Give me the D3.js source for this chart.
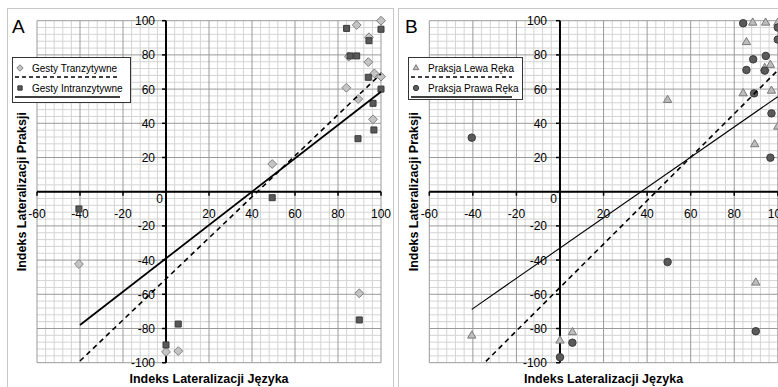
<!DOCTYPE html>
<html>
<head>
<meta charset="utf-8">
<script src="https://cdn.jsdelivr.net/npm/d3@7"></script>
<style>
  body { margin: 0; background: #fff; }
  svg { display: block; font-family: "Liberation Sans", Arial, sans-serif; }
</style>
</head>
<body>
<div id="chart"></div>
<script>
// ticks
const xTicks = [-60, -40, -20, 20, 40, 60, 80, 100];
const yTicks = [-100, -80, -60, -40, -20, 0, 20, 40, 60, 80, 100];

// panel A: gestures
const tranzX = [100, 88.7, 94.4, 85, 94.1, 96.9, 100, 83.9, 89.4, 96.3, 49.4, -40.5, 0, 5.7, 89.9];
const tranzY = [100, 97.5, 90.3, 79, 75.8, 69.2, 67.3, 60.8, 54.2, 42.3, 16.2, -42.3, -93.7, -93.2, -59.4];
const intranzX = [84, 100, 94.4, 85.6, 88.7, 94.1, 100, 96.3, 96.7, 89.3, 49.4, -40.5, 5.7, 0, 89.9];
const intranzY = [95.5, 95, 88.3, 79.4, 79.4, 66.9, 60, 51.7, 36.1, 31, -3.5, -10.1, -77.4, -89.6, -75];
const tranzTrend = [[-40, -99], [100, 69]];
const intranzTrend = [[-40, -78], [100, 58.5]];

// panel B: praxis by hand
const lewaX = [88.5, 94.4, 100, 85.6, 96.6, 94, 84.1, 97.1, 100, 89.4, 49.4, -40.5, 0, 5.7, 89.9];
const lewaY = [98.8, 98.8, 98.8, 87.4, 74.1, 72.3, 57.5, 59, 38, 27.7, 53.6, -84.2, -87.1, -82.2, -53.2];
const prawaX = [84.1, 100, 100, 94.5, 88.7, 85.6, 94, 89.1, 97.1, 96.6, -40.5, 5.7, 0, 49.4, 89.9];
const prawaY = [98.5, 96, 89, 79.4, 77.4, 71.2, 70.8, 57.5, 45.8, 19.9, 31.6, -88.3, -96.8, -41.1, -81.6];
const lewaTrend = [[-34, -99.2], [100, 71]];
const prawaTrend = [[-40.5, -68.8], [100, 55.6]];

const xTitle = "Indeks Lateralizacji Języka";
const yTitle = "Indeks Lateralizacji Praksji";

const svg = d3.select("#chart").append("svg")
  .attr("width", 778)
  .attr("height", 387);

const sym = {
  diamond: d3.symbol().type(d3.symbolDiamond2),
  square: d3.symbol().type(d3.symbolSquare2),
  triangle: d3.symbol().type(d3.symbolTriangle2),
  circle: d3.symbol().type(d3.symbolCircle)
};
const styles = {
  diamond: { fill: "#c4c4c4", stroke: "#808080" },
  square: { fill: "#595959", stroke: "#3a3a3a" },
  triangle: { fill: "#bdbdbd", stroke: "#7a7a7a" },
  circle: { fill: "#5a5a5a", stroke: "#3a3a3a" }
};

function drawPanel(p) {
  const g = svg.append("g");

  // frame
  g.append("rect")
    .attr("x", p.frame[0] + 0.5).attr("y", 8.5)
    .attr("width", p.frame[1] - p.frame[0]).attr("height", 400)
    .attr("fill", "#fff").attr("stroke", "#c8c8c8");

  const x = d3.scaleLinear().domain([-60, 100]).range([p.left, p.right]);
  const y = d3.scaleLinear().domain([-100, 100]).range([362.7, 20.7]);

  // grid
  const minorX = d3.range(-60, 101, 4).filter(v => v % 20 !== 0);
  const minorY = d3.range(-100, 101, 4).filter(v => v % 20 !== 0);
  const majorX = d3.range(-60, 101, 20);
  const majorY = d3.range(-100, 101, 20);

  const grid = g.append("g");
  grid.selectAll(".mx").data(minorX).join("line")
    .attr("x1", d => x(d)).attr("x2", d => x(d))
    .attr("y1", y(100)).attr("y2", y(-100))
    .attr("stroke", "#d4d4d4").attr("stroke-width", 1);
  grid.selectAll(".my").data(minorY).join("line")
    .attr("y1", d => y(d)).attr("y2", d => y(d))
    .attr("x1", x(-60)).attr("x2", x(100))
    .attr("stroke", "#d4d4d4").attr("stroke-width", 1);
  grid.selectAll(".Mx").data(majorX).join("line")
    .attr("x1", d => x(d)).attr("x2", d => x(d))
    .attr("y1", y(100)).attr("y2", y(-100))
    .attr("stroke", "#9a9a9a").attr("stroke-width", 1);
  grid.selectAll(".My").data(majorY).join("line")
    .attr("y1", d => y(d)).attr("y2", d => y(d))
    .attr("x1", x(-60)).attr("x2", x(100))
    .attr("stroke", "#9a9a9a").attr("stroke-width", 1);

  // axes through origin
  g.append("line")
    .attr("x1", x(-60)).attr("x2", x(100)).attr("y1", y(0)).attr("y2", y(0))
    .attr("stroke", "#000").attr("stroke-width", 2);
  g.append("line")
    .attr("x1", x(0)).attr("x2", x(0)).attr("y1", y(-100)).attr("y2", y(100))
    .attr("stroke", "#000").attr("stroke-width", 2);

  g.selectAll(".xt").data(majorX).join("line")
    .attr("x1", d => x(d)).attr("x2", d => x(d))
    .attr("y1", y(0)).attr("y2", y(0) + 4)
    .attr("stroke", "#000").attr("stroke-width", 1.5);
  g.selectAll(".yt").data(majorY).join("line")
    .attr("x1", x(0) - 4).attr("x2", x(0))
    .attr("y1", d => y(d)).attr("y2", d => y(d))
    .attr("stroke", "#000").attr("stroke-width", 1.5);

  g.selectAll(".xl").data(xTicks).join("text")
    .attr("x", d => x(d)).attr("y", y(0) + 26)
    .attr("text-anchor", "middle")
    .attr("font-size", 12).attr("fill", "#000")
    .text(d => d);
  g.selectAll(".yl").data(yTicks).join("text")
    .attr("x", d => d === 0 ? x(0) - 3 : x(0) - p.labelGap)
    .attr("y", d => y(d) + (d === 0 ? 11 : 4.5))
    .attr("text-anchor", "end")
    .attr("font-size", 12).attr("fill", "#000")
    .text(d => d);

  // points
  function points(xs, ys, kind, size) {
    g.append("g").selectAll("path").data(xs.map((v, i) => [v, ys[i]])).join("path")
      .attr("transform", d => `translate(${x(d[0])},${y(d[1])})`)
      .attr("d", sym[kind].size(size)())
      .attr("fill", styles[kind].fill)
      .attr("stroke", styles[kind].stroke)
      .attr("stroke-width", 1);
  }
  points(p.s1.xs, p.s1.ys, p.s1.kind, p.s1.size);
  points(p.s2.xs, p.s2.ys, p.s2.kind, p.s2.size);

  // trend lines
  const line = d3.line().x(d => x(d[0])).y(d => y(d[1]));
  g.append("path").attr("d", line(p.s1.trend))
    .attr("fill", "none").attr("stroke", "#000")
    .attr("stroke-width", 1.6).attr("stroke-dasharray", "5,4");
  g.append("path").attr("d", line(p.s2.trend))
    .attr("fill", "none").attr("stroke", "#000")
    .attr("stroke-width", p.solidWidth);

  // titles
  g.append("text")
    .attr("x", (p.left + p.right) / 2).attr("y", 383)
    .attr("text-anchor", "middle")
    .attr("font-size", 12.5).attr("font-weight", "bold")
    .text(xTitle);
  g.append("text")
    .attr("transform", `translate(${p.yTitleX},${y(0)}) rotate(-90)`)
    .attr("text-anchor", "middle")
    .attr("font-size", 12.5).attr("font-weight", "bold")
    .text(yTitle);

  g.append("text")
    .attr("x", p.letterX).attr("y", 33)
    .attr("font-size", 19).attr("fill", "#000")
    .text(p.letter);

  // legend
  const L = p.legend;
  const lg = g.append("g");
  lg.append("rect")
    .attr("x", L.x + 0.5).attr("y", 57.5)
    .attr("width", L.w).attr("height", L.h)
    .attr("fill", "#fff").attr("stroke", "#333").attr("stroke-width", 1);
  const rows = [p.s1, p.s2];
  rows.forEach((s, i) => {
    const cy = 68 + i * 20;
    lg.append("path")
      .attr("transform", `translate(${L.x + 8},${cy})`)
      .attr("d", sym[s.kind].size(s.legendSize)())
      .attr("fill", styles[s.kind].fill)
      .attr("stroke", styles[s.kind].stroke);
    lg.append("text")
      .attr("x", L.x + 20).attr("y", cy + 4)
      .attr("font-size", 10).attr("fill", "#000")
      .text(s.name);
    lg.append("line")
      .attr("x1", L.x + 3).attr("x2", L.x + L.w - 10)
      .attr("y1", cy + 9).attr("y2", cy + 9)
      .attr("stroke", "#000").attr("stroke-width", 1.3)
      .attr("stroke-dasharray", i === 0 ? "4,3" : null);
  });
}

drawPanel({
  letter: "A", letterX: 12, frame: [7, 393],
  left: 37, right: 381, labelGap: 11, yTitleX: 26, solidWidth: 1.8,
  legend: { x: 12, w: 118, h: 45 },
  s1: { name: "Gesty Tranzytywne", kind: "diamond", size: 50, legendSize: 26, xs: tranzX, ys: tranzY, trend: tranzTrend },
  s2: { name: "Gesty Intranzytywne", kind: "square", size: 46, legendSize: 24, xs: intranzX, ys: intranzY, trend: intranzTrend }
});

drawPanel({
  letter: "B", letterX: 405, frame: [398, 800],
  left: 429.3, right: 777.8, labelGap: 13, yTitleX: 418, solidWidth: 1.1,
  legend: { x: 408, w: 114, h: 42 },
  s1: { name: "Praksja Lewa Ręka", kind: "triangle", size: 50, legendSize: 24, xs: lewaX, ys: lewaY, trend: lewaTrend },
  s2: { name: "Praksja Prawa Ręka", kind: "circle", size: 44, legendSize: 22, xs: prawaX, ys: prawaY, trend: prawaTrend }
});
</script>
</body>
</html>
